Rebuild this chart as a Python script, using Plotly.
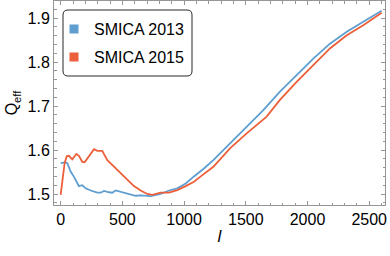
import plotly.graph_objects as go

# SMICA 2013 (blue)
l_2013 = [0, 40, 54, 81, 108, 135, 148, 175, 202, 243, 297, 324, 351, 392, 418, 445, 486, 540,
          607, 648, 729, 810, 878, 945, 1013, 1080, 1130, 1161, 1237, 1372, 1507, 1642, 1777,
          1912, 2047, 2182, 2318, 2452, 2601]
q_2013 = [1.570, 1.572, 1.570, 1.551, 1.539, 1.524, 1.518, 1.520, 1.513, 1.508, 1.503, 1.503,
          1.507, 1.504, 1.503, 1.508, 1.505, 1.502, 1.496, 1.497, 1.495, 1.500, 1.508, 1.513,
          1.524, 1.540, 1.551, 1.558, 1.577, 1.615, 1.653, 1.691, 1.733, 1.770, 1.808, 1.842,
          1.869, 1.892, 1.917]

# SMICA 2015 (orange)
l_2015 = [0, 13, 32, 49, 67, 94, 127, 148, 175, 194, 216, 243, 270, 297, 337, 378, 432, 486,
          540, 594, 648, 702, 743, 810, 878, 945, 1013, 1080, 1130, 1237, 1372, 1507, 1669,
          1777, 1912, 2047, 2182, 2318, 2452, 2601]
q_2015 = [1.498, 1.524, 1.570, 1.586, 1.587, 1.579, 1.591, 1.587, 1.573, 1.572, 1.580, 1.591,
          1.602, 1.598, 1.598, 1.577, 1.562, 1.547, 1.533, 1.518, 1.508, 1.500, 1.498, 1.503,
          1.503, 1.509, 1.518, 1.528, 1.539, 1.562, 1.604, 1.638, 1.676, 1.714, 1.755, 1.793,
          1.831, 1.861, 1.884, 1.912]

names = ["SMICA 2013", "SMICA 2015"]
colors = ["rgb(94,158,208)", "rgb(236,95,58)"]

x_ticks = [0, 500, 1000, 1500, 2000, 2500]
y_ticks = [1.5, 1.6, 1.7, 1.8, 1.9]

FONT = "Liberation Sans, Arial, sans-serif"
FRAME = "rgb(150,150,150)"

fig = go.Figure()
for lx, qy, c in [(l_2013, q_2013, colors[0]), (l_2015, q_2015, colors[1])]:
    fig.add_trace(go.Scatter(x=lx, y=qy, mode="lines", line=dict(color=c, width=1.8),
                             showlegend=False, hoverinfo="skip"))
for i, (n, c) in enumerate(zip(names, colors)):
    fig.add_trace(go.Scatter(x=[None], y=[None], mode="markers", name=n,
                             legendgroup=str(i),
                             marker=dict(symbol="square", size=9, color=c)))

axis_common = dict(
    showline=True, linecolor=FRAME, linewidth=1, mirror="ticks",
    ticks="inside", ticklen=4, tickcolor=FRAME, tickwidth=1,
    showgrid=False, zeroline=False, automargin=False,
    tickfont=dict(family=FONT, size=16, color="black"),
)

fig.update_xaxes(range=[-54, 2628], tickvals=x_ticks,
                 minor=dict(dtick=100, ticks="inside", ticklen=2.5, tickcolor=FRAME),
                 title=dict(text="<i>l</i>", font=dict(family=FONT, size=17, color="black"),
                            standoff=2),
                 **axis_common)
fig.update_yaxes(range=[1.475, 1.939], tickvals=y_ticks, tickformat=".1f",
                 minor=dict(dtick=0.02, ticks="inside", ticklen=2.5, tickcolor=FRAME),
                 title=dict(text="Q<sub>eff</sub>", font=dict(family=FONT, size=16, color="black"),
                            standoff=5),
                 **axis_common)

# rounded legend frame (paper coords)
W, H = 331.0, 204.0
x0, x1 = (63 - 54) / W, (192 - 54) / W
y1, y0 = (205 - 10) / H, (205 - 76) / H
rx, ry = 5 / W, 5 / H
path = (f"M {x0+rx},{y1} L {x1-rx},{y1} Q {x1},{y1} {x1},{y1-ry} "
        f"L {x1},{y0+ry} Q {x1},{y0} {x1-rx},{y0} L {x0+rx},{y0} "
        f"Q {x0},{y0} {x0},{y0+ry} L {x0},{y1-ry} Q {x0},{y1} {x0+rx},{y1} Z")
fig.add_shape(type="path", path=path, xref="paper", yref="paper",
              line=dict(color="rgb(40,40,40)", width=1), fillcolor="white", layer="below")

fig.update_layout(
    width=390, height=256,
    margin=dict(l=54, r=5, t=1, b=51),
    plot_bgcolor="rgba(0,0,0,0)", paper_bgcolor="white",
    showlegend=True,
    legend=dict(x=0.0, y=0.945, xanchor="left", yanchor="top",
                bgcolor="rgba(0,0,0,0)", borderwidth=0,
                font=dict(family=FONT, size=16, color="black"),
                tracegroupgap=4, itemwidth=30),
)

fig.write_html("out.html", config={"displayModeBar": False},
               post_script="document.body.style.margin='0';document.body.style.padding='0';"
                           "document.body.style.overflow='hidden';")
